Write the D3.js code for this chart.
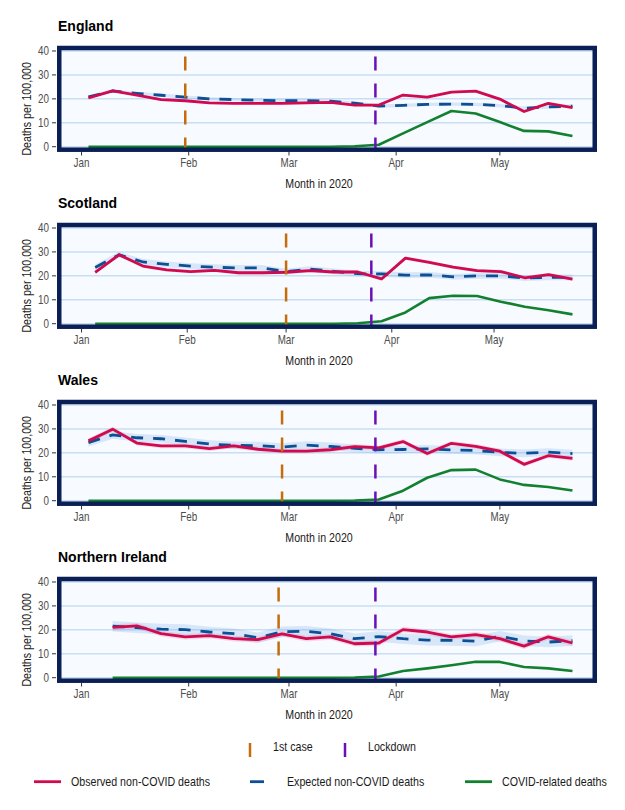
<!DOCTYPE html>
<html>
<head>
<meta charset="utf-8">
<script src="https://cdn.jsdelivr.net/npm/d3@7"></script>
<style>
body { margin: 0; background: #fff; }
text { font-family: "Liberation Sans", Arial, sans-serif; }
.title { font-weight: bold; }
</style>
</head>
<body>
<svg id="chart" width="625" height="810"></svg>
<script>
// week-ending dates
var fridays = ["2020-01-03", "2020-01-10", "2020-01-17", "2020-01-24", "2020-01-31", "2020-02-07", "2020-02-14",
    "2020-02-21", "2020-02-28", "2020-03-06", "2020-03-13", "2020-03-20", "2020-03-27", "2020-04-03",
    "2020-04-10", "2020-04-17", "2020-04-24", "2020-05-01", "2020-05-08", "2020-05-15", "2020-05-22"];
var sundays = ["2020-01-05", "2020-01-12", "2020-01-19", "2020-01-26", "2020-02-02", "2020-02-09", "2020-02-16",
    "2020-02-23", "2020-03-01", "2020-03-08", "2020-03-15", "2020-03-22", "2020-03-29", "2020-04-05",
    "2020-04-12", "2020-04-19", "2020-04-26", "2020-05-03", "2020-05-10", "2020-05-17", "2020-05-24"];
var niFridays = ["2020-01-10", "2020-01-17", "2020-01-24", "2020-01-31", "2020-02-07", "2020-02-14",
    "2020-02-21", "2020-02-28", "2020-03-06", "2020-03-13", "2020-03-20", "2020-03-27", "2020-04-03",
    "2020-04-10", "2020-04-17", "2020-04-24", "2020-05-01", "2020-05-08", "2020-05-15", "2020-05-22"];

var englandObserved = [20.4, 23.3, 21.6, 19.7, 19.2, 18.3, 18.1, 18.1, 18.1, 18.3, 18.5, 17.4, 17.4, 21.6, 20.7, 22.8, 23.2, 19.9, 14.7, 18.1, 16.3];
var englandExpected = [20.8, 23.3, 22.3, 21.5, 20.7, 20.0, 19.7, 19.4, 19.2, 19.3, 19.0, 18.2, 17.0, 17.3, 17.7, 17.8, 17.7, 17.2, 16.1, 16.6, 17.0];
var englandCovid = [0, 0, 0, 0, 0, 0, 0, 0, 0, 0, 0, 0.2, 0.8, 5.6, 10.3, 14.9, 13.9, 10.3, 6.6, 6.4, 4.5];

var scotlandObserved = [21.5, 28.8, 24.1, 22.5, 21.8, 22.3, 21.3, 21.3, 21.5, 22.2, 21.6, 21.6, 18.7, 27.4, 25.6, 23.6, 22.2, 21.8, 19.2, 20.5, 18.6];
var scotlandExpected = [23.5, 28.8, 25.8, 24.8, 24.1, 23.6, 23.3, 23.3, 21.8, 22.8, 21.9, 20.9, 20.8, 20.3, 20.4, 19.6, 20.0, 20.0, 19.1, 19.4, 19.4];
var scotlandCovid = [0, 0, 0, 0, 0, 0, 0, 0, 0, 0, 0, 0.2, 1.0, 4.7, 10.7, 11.7, 11.6, 9.2, 7.1, 5.6, 3.9];

var walesObserved = [25.0, 29.9, 24.1, 22.9, 22.9, 21.8, 22.9, 21.5, 20.7, 20.7, 21.3, 22.6, 22.1, 24.7, 19.7, 24.0, 22.7, 20.7, 15.2, 18.8, 17.7];
var walesExpected = [24.3, 27.5, 26.3, 25.9, 24.8, 23.7, 23.1, 23.0, 22.4, 23.2, 22.7, 21.9, 21.3, 21.4, 21.7, 21.2, 21.0, 20.2, 19.8, 20.3, 19.7];
var walesCovid = [0, 0, 0, 0, 0, 0, 0, 0, 0, 0, 0, 0.1, 0.5, 4.2, 9.6, 12.8, 13.0, 8.9, 6.6, 5.7, 4.3];

var niObserved = [21.0, 21.7, 18.4, 17.1, 17.6, 16.3, 15.9, 18.3, 16.3, 17.1, 14.2, 14.5, 20.1, 19.1, 17.1, 18.0, 16.3, 13.2, 17.1, 14.5];
var niExpected = [21.5, 20.9, 20.3, 20.1, 19.1, 18.4, 16.7, 19.2, 19.4, 18.4, 16.3, 17.2, 16.3, 15.7, 15.6, 15.3, 17.3, 15.4, 14.9, 15.5];
var niCovid = [0, 0, 0, 0, 0, 0, 0, 0, 0, 0, 0.1, 0.5, 2.8, 3.9, 5.2, 6.7, 6.6, 4.5, 3.9, 2.8];

var countries = ["England", "Scotland", "Wales", "Northern Ireland"];
var firstCase = ["2020-01-31", "2020-03-01", "2020-02-28", "2020-02-27"];
var lockdown = ["2020-03-26", "2020-03-26", "2020-03-26", "2020-03-26"];
// half-widths of the shaded intervals
var observedBand = [0.4, 0.7, 1.0, 1.2];
var expectedBand = [0.7, 1.2, 1.6, 2.2];

var monthTicks = ["2020-01-01", "2020-02-01", "2020-03-01", "2020-04-01", "2020-05-01"];
var monthLabels = ["Jan", "Feb", "Mar", "Apr", "May"];
var yTicks = [0, 10, 20, 30, 40];

var colObserved = "#cf0a4e", colExpected = "#0d4f94", colCovid = "#12802f";
var colFirst = "#c46d0a", colLock = "#6b10b8";

var parse = d3.utcParse("%Y-%m-%d");

var panels = [
    {dates: fridays, obs: englandObserved, exp: englandExpected, cov: englandCovid},
    {dates: sundays, obs: scotlandObserved, exp: scotlandExpected, cov: scotlandCovid},
    {dates: fridays, obs: walesObserved, exp: walesExpected, cov: walesCovid},
    {dates: niFridays, obs: niObserved, exp: niExpected, cov: niCovid}
];

var svg = d3.select("#chart");

// condensed text: the original uses a narrow face
function narrow(parent, x, y, str, size, anchor, fill, rotate) {
    return parent.append("text")
        .attr("transform", "translate(" + x + "," + y + ")" + (rotate ? " rotate(-90)" : "") + " scale(0.82,1)")
        .attr("text-anchor", anchor || "start")
        .attr("font-size", size)
        .attr("fill", fill)
        .text(str);
}

var left = 57, right = 597, panelH = 105.3, firstTop = 46.2, step = 177;

panels.forEach(function (p, i) {
    var top = firstTop + i * step;
    var bottom = top + panelH;
    var dates = p.dates.map(parse);

    // limits Jan 1 .. last week, expanded 5%
    var start = parse("2020-01-01"), end = dates[dates.length - 1];
    var pad = (end - start) * 0.05;
    var x = d3.scaleUtc()
        .domain([new Date(+start - pad), new Date(+end + pad)])
        .range([left, right]);
    var y = d3.scaleLinear().domain([-2, 42]).range([bottom, top]);

    var g = svg.append("g");

    g.append("text")
        .attr("class", "title")
        .attr("x", 58)
        .attr("y", top - 15)
        .attr("font-size", "14px")
        .attr("fill", "#000")
        .text(countries[i]);

    g.append("rect")
        .attr("x", left).attr("y", top)
        .attr("width", right - left).attr("height", panelH)
        .attr("fill", "#f7faff");

    g.selectAll(".grid")
        .data(yTicks)
        .enter().append("line")
        .attr("x1", left).attr("x2", right)
        .attr("y1", function (d) { return y(d); })
        .attr("y2", function (d) { return y(d); })
        .attr("stroke", "#c9def5")
        .attr("stroke-width", 1.5);

    var rows = dates.map(function (d, k) {
        return {date: d, obs: p.obs[k], exp: p.exp[k], cov: p.cov[k]};
    });

    var ribbon = function (key, half) {
        return d3.area()
            .x(function (d) { return x(d.date); })
            .y0(function (d) { return y(d[key] - half); })
            .y1(function (d) { return y(d[key] + half); });
    };

    g.append("path").datum(rows)
        .attr("fill", "#5b9be0").attr("fill-opacity", 0.2)
        .attr("d", ribbon("exp", expectedBand[i]));
    g.append("path").datum(rows)
        .attr("fill", "#e8306e").attr("fill-opacity", 0.15)
        .attr("d", ribbon("obs", observedBand[i]));

    var line = function (key) {
        return d3.line()
            .x(function (d) { return x(d.date); })
            .y(function (d) { return y(d[key]); });
    };

    g.append("path").datum(rows)
        .attr("fill", "none")
        .attr("stroke", colExpected)
        .attr("stroke-width", 2.8)
        .attr("stroke-dasharray", "12,10")
        .attr("d", line("exp"));

    g.append("path").datum(rows)
        .attr("fill", "none")
        .attr("stroke", colObserved)
        .attr("stroke-width", 2.8)
        .attr("stroke-linejoin", "round")
        .attr("d", line("obs"));

    g.append("path").datum(rows)
        .attr("fill", "none")
        .attr("stroke", colCovid)
        .attr("stroke-width", 2.6)
        .attr("stroke-linejoin", "round")
        .attr("d", line("cov"));

    // event markers, drawn bottom to top
    [[firstCase[i], colFirst], [lockdown[i], colLock]].forEach(function (ev) {
        var xv = x(parse(ev[0]));
        g.append("line")
            .attr("x1", xv).attr("x2", xv)
            .attr("y1", y(-2)).attr("y2", y(42))
            .attr("stroke", ev[1])
            .attr("stroke-width", 2.5)
            .attr("stroke-dasharray", "14,13");
    });

    // panel frame
    g.append("rect")
        .attr("x", left + 2.25).attr("y", top + 1.8)
        .attr("width", right - left - 4.5).attr("height", panelH - 3.6)
        .attr("fill", "none")
        .attr("stroke", "#0a1f55")
        .attr("stroke-width", 4.5);

    // y axis
    yTicks.forEach(function (t) {
        g.append("line")
            .attr("x1", 52).attr("x2", 56)
            .attr("y1", y(t)).attr("y2", y(t))
            .attr("stroke", "#333").attr("stroke-width", 1);
        narrow(g, 49, y(t) + 4.2, t, "12px", "end", "#4d4d4d");
    });

    // x axis
    monthTicks.forEach(function (m, k) {
        var xv = x(parse(m));
        g.append("line")
            .attr("x1", xv).attr("x2", xv)
            .attr("y1", bottom + 0.5).attr("y2", bottom + 4)
            .attr("stroke", "#333").attr("stroke-width", 1);
        narrow(g, xv, bottom + 15.5, monthLabels[k], "12px", "middle", "#4d4d4d");
    });

    narrow(g, 319, bottom + 36.5, "Month in 2020", "13px", "middle", "#1a1a1a");
    narrow(g, 31, (top + bottom) / 2 + 10, "Deaths per 100,000", "13px", "middle", "#1a1a1a", true);
});

// legend
var legend = svg.append("g");

[[250, colFirst, "1st case", 273], [345, colLock, "Lockdown", 368]].forEach(function (d) {
    legend.append("line")
        .attr("x1", d[0]).attr("x2", d[0])
        .attr("y1", 743).attr("y2", 757)
        .attr("stroke", d[1]).attr("stroke-width", 2.5);
    narrow(legend, d[3], 750.5, d[2], "13px", "start", "#1a1a1a");
});

[[34, 61, colObserved, "Observed non-COVID deaths", 71],
 [250, 264, colExpected, "Expected non-COVID deaths", 287],
 [465, 492, colCovid, "COVID-related deaths", 502]].forEach(function (d) {
    legend.append("line")
        .attr("x1", d[0]).attr("x2", d[1])
        .attr("y1", 781.7).attr("y2", 781.7)
        .attr("stroke", d[2]).attr("stroke-width", 2.8);
    narrow(legend, d[4], 786, d[3], "13px", "start", "#1a1a1a");
});
</script>
</body>
</html>
